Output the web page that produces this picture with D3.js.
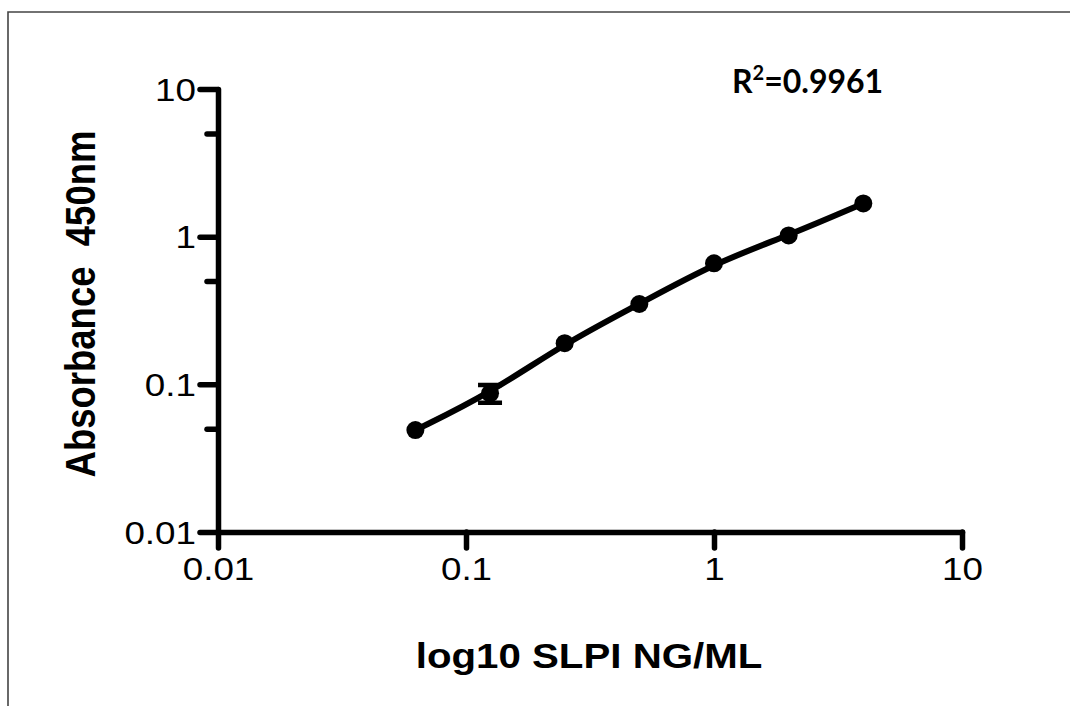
<!DOCTYPE html>
<html>
<head>
<meta charset="utf-8">
<script src="https://cdn.jsdelivr.net/npm/d3@7/dist/d3.min.js"></script>
<style>
  html, body { margin: 0; padding: 0; background: #fff; }
  svg { display: block; }
</style>
</head>
<body>
<svg id="chart" width="1070" height="706"></svg>
<script>
// Standard curve: SLPI concentration (ng/ml) vs absorbance at 450 nm
const concentrations = [0.0625, 0.125, 0.25, 0.5, 1, 2, 4];
const absorbance     = [0.049, 0.087, 0.19, 0.35, 0.66, 1.02, 1.68];
const absorbanceErr  = [0, 0.012, 0, 0, 0, 0, 0];

const xTickValues = [0.01, 0.1, 1, 10];
const xTickLabels = ["0.01", "0.1", "1", "10"];
const yTickValues = [0.01, 0.1, 1, 10];
const yTickLabels = ["0.01", "0.1", "1", "10"];
const yMinorTicks = [0.05, 0.5, 5];

const rSquared = "0.9961";
const xTitle = "log10 SLPI NG/ML";
const yTitle = "Absorbance\u00a0\u00a0450nm";

const svg = d3.select("#chart");
const stretch = 1.15;   // glyphs are drawn slightly wide

// page frame (top and left rules)
svg.append("path")
  .attr("d", "M8,706V12H1070")
  .attr("fill", "none")
  .attr("stroke", "#444")
  .attr("stroke-width", 1.6);

const x = d3.scaleLog().domain([0.01, 10]).range([218, 962]);
const y = d3.scaleLog().domain([0.01, 10]).range([532, 89]);

const axisStyle = g => {
  g.selectAll("path.domain, line")
    .attr("stroke", "#000")
    .attr("stroke-width", 5.5)
    .attr("stroke-linecap", "round");
};

// y axis: minor ticks
svg.append("g")
  .attr("transform", "translate(218,0)")
  .call(d3.axisLeft(y).tickValues(yMinorTicks).tickSize(11).tickSizeOuter(0).tickFormat(""))
  .call(axisStyle)
  .call(g => g.select(".domain").remove());

// y axis: major ticks and labels
svg.append("g")
  .attr("transform", "translate(218,0)")
  .call(d3.axisLeft(y).tickValues(yTickValues).tickSize(18).tickSizeOuter(0)
    .tickFormat((d, i) => yTickLabels[i]))
  .call(axisStyle)
  .call(g => g.selectAll("text")
    .attr("x", 0).attr("dy", null).attr("y", 0)
    .attr("transform", "translate(-22,11) scale(" + stretch + ",1)")
    .attr("text-anchor", "end")
    .attr("fill", "#000")
    .style("font-family", "'Liberation Sans', Arial, sans-serif")
    .style("font-size", "32px"));

// x axis
svg.append("g")
  .attr("transform", "translate(0,532)")
  .call(d3.axisBottom(x).tickValues(xTickValues).tickSize(16).tickSizeOuter(0)
    .tickFormat((d, i) => xTickLabels[i]))
  .call(axisStyle)
  .call(g => g.selectAll("text")
    .attr("y", 0).attr("dy", null)
    .attr("transform", "translate(0,48) scale(" + stretch + ",1)")
    .attr("text-anchor", "middle")
    .attr("fill", "#000")
    .style("font-family", "'Liberation Sans', Arial, sans-serif")
    .style("font-size", "32px"));

const points = concentrations.map((c, i) => ({ c, a: absorbance[i], e: absorbanceErr[i] }));

// fitted curve
const line = d3.line()
  .x(d => x(d.c))
  .y(d => y(d.a))
  .curve(d3.curveBasis);

svg.append("path")
  .datum(points)
  .attr("d", line)
  .attr("fill", "none")
  .attr("stroke", "#000")
  .attr("stroke-width", 6)
  .attr("stroke-linecap", "round");

// error bars
const capHalf = 12;
const errG = svg.append("g")
  .attr("stroke", "#000")
  .attr("stroke-width", 4.5)
  .attr("fill", "none");
points.filter(d => d.e > 0).forEach(d => {
  const cx = x(d.c), y1 = y(d.a + d.e), y2 = y(d.a - d.e);
  errG.append("path")
    .attr("d", `M${cx},${y1}V${y2}M${cx - capHalf},${y1}H${cx + capHalf}M${cx - capHalf},${y2}H${cx + capHalf}`);
});

// data points
svg.append("g")
  .selectAll("circle")
  .data(points)
  .join("circle")
  .attr("cx", d => x(d.c))
  .attr("cy", d => y(d.a))
  .attr("r", 9)
  .attr("fill", "#000");

// axis titles
svg.append("text")
  .attr("transform", "translate(589,668) scale(" + stretch + ",1)")
  .attr("text-anchor", "middle")
  .style("font-family", "'Liberation Sans', Arial, sans-serif")
  .style("font-weight", "bold")
  .style("font-size", "35px")
  .text(xTitle);

svg.append("text")
  .attr("transform", "translate(95,304) scale(" + stretch + ",1) rotate(-90)")
  .attr("text-anchor", "middle")
  .style("font-family", "'Liberation Sans', Arial, sans-serif")
  .style("font-weight", "bold")
  .style("font-size", "36.5px")
  .text(yTitle);

// goodness-of-fit annotation
const r2 = svg.append("text")
  .attr("transform", "translate(732,93)")
  .attr("text-anchor", "start")
  .style("font-family", "Lato, 'Open Sans', sans-serif")
  .style("font-weight", "bold")
  .style("font-size", "32px");
r2.append("tspan").text("R");
r2.append("tspan").attr("dy", -13).style("font-size", "20px").text("2");
r2.append("tspan").attr("dy", 13).text("=" + rSquared);
</script>
</body>
</html>
